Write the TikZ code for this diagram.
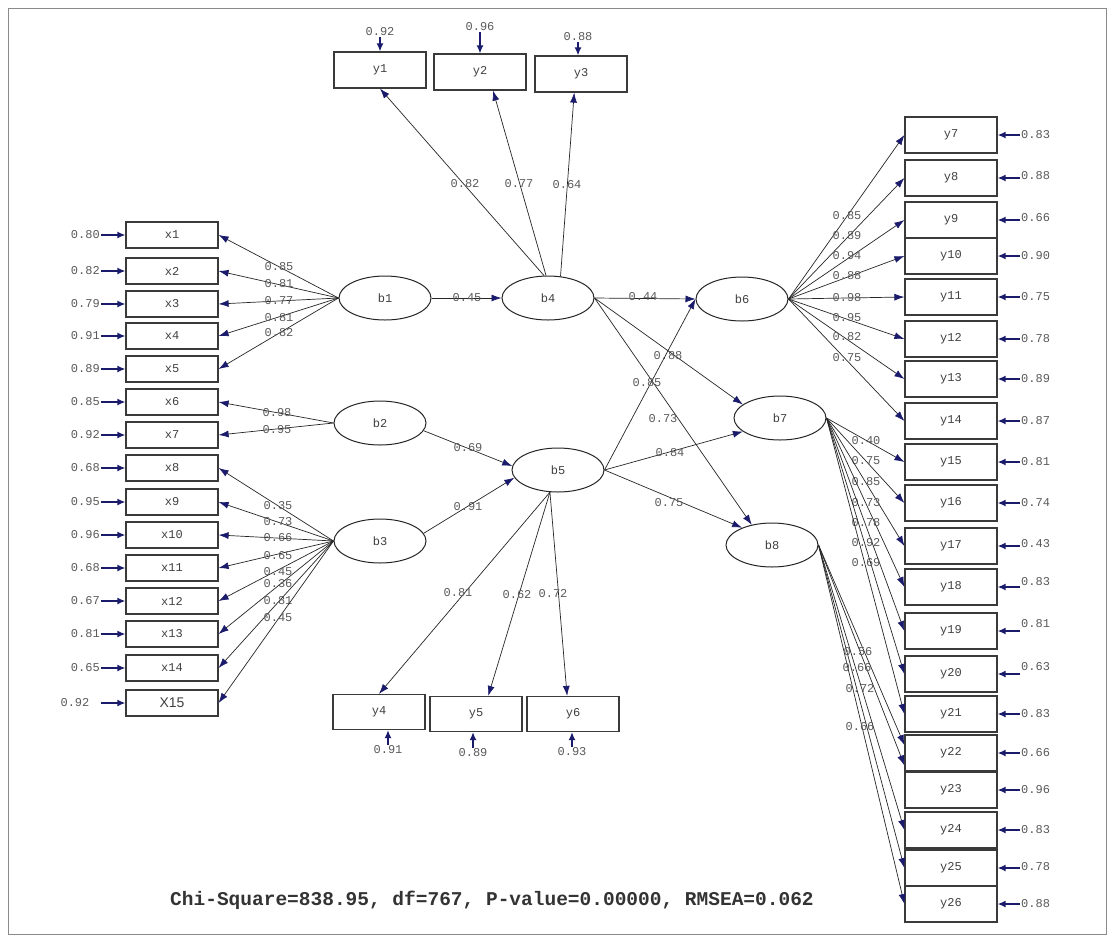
\documentclass[tikz,border=0pt]{standalone}
\usepackage{fontspec}
\setmainfont{Liberation Mono}
\newfontfamily\sansfam{Liberation Sans}
\usetikzlibrary{arrows.meta,positioning,calc,shapes.geometric}
\definecolor{tipnavy}{HTML}{1B1B6B}
\definecolor{labelgray}{HTML}{5A5A5A}
\definecolor{boxgray}{HTML}{3A3A3A}
\definecolor{framegray}{HTML}{8A8A8A}
\newcommand\lblfont{\fontsize{12}{12}\selectfont}
\tikzset{
  indic/.style={draw=boxgray, line width=1.2pt, minimum width=92pt, minimum height=26pt, inner sep=0pt, font=\lblfont, text=black!75},
  indicl/.style={indic, minimum height=36pt},
  latent/.style={ellipse, draw=black!85, line width=1pt, minimum width=92pt, minimum height=44pt, inner sep=0pt, font=\lblfont, text=black!75},
  coef/.style={font=\lblfont, text=labelgray, inner sep=1pt},
  errlabel/.style={coef},
  pathline/.style={draw=black!85, line width=0.7pt, -{Latex[length=10pt,width=7pt,color=tipnavy]}},
  errline/.style={draw=tipnavy, line width=1.5pt, -{Latex[length=8pt,width=7pt]}}
}
\begin{document}
\begin{tikzpicture}[x=1pt,y=-1pt]
  \useasboundingbox (0,0) rectangle (1113,940);
  \fill[white] (0,0) rectangle (1113,940);
  \draw[framegray, line width=1pt] (8,8) rectangle (1106,934);

  % latent variables
  \node[latent] (b1) at (385,298) {b1};
  \node[latent] (b2) at (380,423) {b2};
  \node[latent] (b3) at (380,541) {b3};
  \node[latent] (b4) at (548,298) {b4};
  \node[latent] (b5) at (558,470) {b5};
  \node[latent] (b6) at (742,299) {b6};
  \node[latent] (b7) at (780,418) {b7};
  \node[latent] (b8) at (772,545) {b8};

  % x indicators
  \foreach \i/\yy/\e in {1/235/0.80,2/271/0.82,3/304/0.79,4/336/0.91,5/369/0.89,6/402/0.85,7/435/0.92,8/468/0.68,9/502/0.95,10/535/0.96,11/568/0.68,12/601/0.67,13/634/0.81,14/668/0.65}{
    \node[indic] (x\i) at (172,\yy) {x\i};
    \node[errlabel, anchor=east] (ex\i) at (101,\yy) {\e};
    \draw[errline] (ex\i) -- (x\i);
  }
  \node[indic, font=\sansfam\fontsize{14}{14}\selectfont] (x15) at (172,703) {X15};
  \node[errlabel] (ex15) at (75,703) {0.92};
  \draw[errline, shorten <=10pt] (ex15) -- (x15);

  % top and bottom y indicators
  \node[indicl] (y1) at (380,70) {y1};
  \node[indicl] (y2) at (480,72) {y2};
  \node[indicl] (y3) at (581,74) {y3};
  \node[errlabel] (ey1) at (380,32) {0.92};
  \node[errlabel] (ey2) at (480,27) {0.96};
  \node[errlabel] (ey3) at (578,37) {0.88};
  \foreach \i in {1,2,3}
    \draw[errline] (ey\i.south) -- (ey\i.south |- y\i.north);

  \node[indicl, minimum height=35pt] (y4) at (379,712) {y4};
  \node[indicl, minimum height=35pt] (y5) at (476,714) {y5};
  \node[indicl, minimum height=35pt] (y6) at (573,714) {y6};
  \node[errlabel] (ey4) at (388,750) {0.91};
  \node[errlabel] (ey5) at (473,753) {0.89};
  \node[errlabel] (ey6) at (572,752) {0.93};
  \foreach \i in {4,5,6}
    \draw[errline] (ey\i.north) -- (ey\i.north |- y\i.south);

  % right y indicators
  \foreach \i/\yy/\e/\dy in {7/135/0.83/0,8/178/0.88/-2,9/220/0.66/-2,10/256/0.90/0,11/297/0.75/0,12/339/0.78/0,13/379/0.89/0,14/421/0.87/0,15/462/0.81/0,16/503/0.74/0,17/546/0.43/-2,18/587/0.83/-5,19/631/0.81/-7,20/674/0.63/-7,21/714/0.83/0,22/753/0.66/0,23/790/0.96/0,24/830/0.83/0,25/868/0.78/-1,26/904/0.88/0}{
    \node[indicl] (y\i) at (951,\yy) {y\i};
    \node[errlabel, anchor=west] (ey\i) at (1020,\yy+\dy) {\e};
    \draw[errline] (ey\i.west |- y\i.east) -- (y\i.east);
  }

  % loadings of b1, b2, b3
  \foreach \i/\ly/\v in {1/267/0.85,2/284/0.81,3/301/0.77,4/318/0.81,5/333/0.82}{
    \draw[pathline] (b1.west) -- (x\i.east);
    \node[coef] (cx\i) at (279,\ly) {\v};
  }
  \foreach \i/\ly/\v in {6/413/0.98,7/430/0.95}{
    \draw[pathline] (b2.west) -- (x\i.east);
    \node[coef] (cx\i) at (277,\ly) {\v};
  }
  \foreach \i/\ly/\v in {8/506/0.35,9/522/0.73,10/538/0.66,11/556/0.65,12/572/0.45,13/584/0.36,14/601/0.81,15/618/0.45}{
    \draw[pathline] (b3.west) -- (x\i.east);
    \node[coef] (cx\i) at (278,\ly) {\v};
  }

  % structural paths
  \draw[pathline] (b1) -- (b4);
  \node[coef] (s14) at (467,298) {0.45};
  \draw[pathline] (b2.350) -- (b5.175);
  \node[coef] (s25) at (468,448) {0.69};
  \draw[pathline] (b3.10) -- (b5.190);
  \node[coef] (s35) at (468,507) {0.91};
  \draw[pathline] (b4.east) -- (b6.west);
  \node[coef] (s46) at (643,297) {0.44};
  \draw[pathline] (b4.east) -- (b7.160);
  \node[coef] (s47) at (668,356) {0.88};
  \draw[pathline] (b4.east) -- (b8.135);
  \node[coef] (s48) at (663,419) {0.73};
  \draw[pathline] (b5.east) -- (b6.west);
  \node[coef] (s56) at (647,383) {0.85};
  \draw[pathline] (b5.east) -- (b7.200);
  \node[coef] (s57) at (670,453) {0.84};
  \draw[pathline] (b5.east) -- (b8.150);
  \node[coef] (s58) at (669,503) {0.75};

  % loadings of b4, b5
  \draw[pathline] (b4.100) -- (y1.south);
  \node[coef] (cy1) at (465,184) {0.82};
  \draw[pathline] (b4.95) -- (y2.305);
  \node[coef] (cy2) at (519,184) {0.77};
  \draw[pathline] (b4.60) -- (y3.250);
  \node[coef] (cy3) at (567,185) {0.64};
  \draw[pathline] (b5.250) -- (y4.north);
  \node[coef] (cy4) at (458,593) {0.81};
  \draw[pathline] (b5.250) -- (y5.56);
  \node[coef] (cy5) at (517,595) {0.62};
  \draw[pathline] (b5.250) -- (y6.108);
  \node[coef] (cy6) at (553,594) {0.72};

  % loadings of b6, b7, b8
  \foreach \i/\ly/\v in {7/216/0.85,8/236/0.89,9/256/0.94,10/276/0.88,11/298/0.98,12/318/0.95,13/337/0.82,14/358/0.75}{
    \draw[pathline] (b6.east) -- (y\i.west);
    \node[coef] (cy\i) at (847,\ly) {\v};
  }
  \foreach \i/\ly/\v in {15/441/0.40,16/461/0.75,17/482/0.85,18/503/0.73,19/523/0.78,20/543/0.92,21/563/0.69}{
    \draw[pathline] (b7.east) -- (y\i.west);
    \node[coef] (cy\i) at (866,\ly) {\v};
  }
  \draw[pathline] (b8.east) -- ($(y22.west)+(0,-8)$);
  \draw[pathline] (b8.east) -- ($(y23.north west)+(0,-6)$);
  \draw[pathline] (b8.east) -- (y24.west);
  \draw[pathline] (b8.east) -- (y25.west);
  \draw[pathline] (b8.east) -- (y26.west);
  \node[coef] (cy22) at (858,652) {0.56};
  \node[coef] (cy23) at (857,668) {0.66};
  \node[coef] (cy24) at (860,689) {0.72};
  \node[coef] (cy25) at (860,727) {0.66};

  % fit statistics
  \node[font=\bfseries\fontsize{19.5}{20}\selectfont, text=black!80] (fitline) at (492,900) {Chi-Square=838.95, df=767, P-value=0.00000, RMSEA=0.062};
\end{tikzpicture}
\end{document}
